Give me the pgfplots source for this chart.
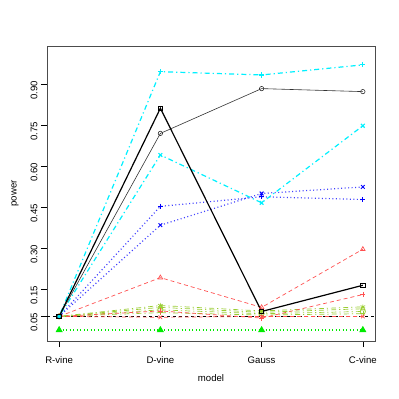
\documentclass[border=0pt]{standalone}
\usepackage{pgfplots}
\pgfplotsset{compat=1.18}
\usepackage{fontspec}
\setmainfont{Liberation Sans}
\definecolor{ygreen}{RGB}{154,205,50}
\definecolor{lred}{RGB}{255,80,80}
\definecolor{rcyan}{RGB}{0,240,255}
\definecolor{rblue}{RGB}{0,0,255}
\definecolor{rgreen}{RGB}{0,235,0}
\begin{document}
\begin{tikzpicture}[x=1pt,y=1pt]
\path[use as bounding box] (0,0) rectangle (399,399);
\begin{axis}[
  at={(47pt,58pt)}, anchor=south west,
  scale only axis, width=328pt, height=295pt,
  xmin=0.88, xmax=4.12, ymin=-0.04, ymax=1.04,
  xtick={1,2,3,4}, xticklabels={R-vine,D-vine,Gauss,C-vine},
  ytick={0.05,0.15,0.30,0.45,0.60,0.75,0.90},
  yticklabels={0.05,0.15,0.30,0.45,0.60,0.75,0.90},
  tick align=outside, tick pos=left,
  major tick length=6pt,
  every tick/.style={black, line width=0.5pt},
  axis line style={black!70, line width=0.6pt},
  font=\fontsize{9.6}{12}\selectfont,
  yticklabel style={rotate=90, anchor=south, xshift=-6pt},
  xticklabel style={yshift=-6pt},
  xlabel={model}, ylabel={power},
  xlabel style={at={(axis description cs:0.5,-0.1254)}, anchor=center},
  ylabel style={at={(axis description cs:-0.0976,0.5)}, anchor=center, rotate=0},
  clip=false,
  every axis plot/.append style={mark size=2.6pt, line width=0.7pt},
  rdash/.style={dash pattern=on 4pt off 3pt},
  rdot/.style={dash pattern=on 1pt off 2.5pt},
  rdotdash/.style={dash pattern=on 1.2pt off 3pt on 5pt off 3pt},
]
\addplot[black, dash pattern=on 3pt off 3pt, line width=0.5pt, no marks] coordinates {(0.88,0.05) (4.12,0.05)};
% bright green at 0
\addplot[rgreen, rdot, line width=1.2pt, mark=triangle*, mark options={solid, fill=rgreen, mark size=3pt}] coordinates {(1,0) (2,0) (3,0) (4,0)};
% yellow-green family
\addplot[ygreen, rdotdash, mark=asterisk, mark options={solid}] coordinates {(1,0.05) (2,0.090) (3,0.070) (4,0.085)};
\addplot[ygreen, rdotdash, mark=triangle, mark options={solid}] coordinates {(1,0.05) (2,0.083) (3,0.065) (4,0.078)};
\addplot[ygreen, rdotdash, mark=o, mark options={solid}] coordinates {(1,0.05) (2,0.074) (3,0.060) (4,0.068)};
\addplot[ygreen, rdotdash, mark=+, mark options={solid}] coordinates {(1,0.05) (2,0.064) (3,0.055) (4,0.060)};
% red family
\addplot[lred, rdash, mark=triangle, mark options={solid}] coordinates {(1,0.05) (2,0.192) (3,0.083) (4,0.296)};
\addplot[lred, rdash, mark=+, mark options={solid}] coordinates {(1,0.05) (2,0.070) (3,0.044) (4,0.130)};
\addplot[lred, rdash, mark=x, mark options={solid}] coordinates {(1,0.05) (2,0.047) (3,0.050) (4,0.050)};
% blue family
\addplot[rblue!75, rdot, line width=1.2pt, mark=+, mark options={solid, rblue, line width=0.9pt}] coordinates {(1,0.05) (2,0.453) (3,0.488) (4,0.478)};
\addplot[rblue!75, rdot, line width=1.2pt, mark=x, mark options={solid, rblue, line width=0.9pt}] coordinates {(1,0.05) (2,0.384) (3,0.500) (4,0.524)};
% cyan family
\addplot[rcyan, rdotdash, line width=1.2pt, mark=x, mark options={solid}] coordinates {(1,0.05) (2,0.641) (3,0.466) (4,0.748)};
\addplot[rcyan, rdotdash, line width=1.2pt, mark=+, mark options={solid}] coordinates {(1,0.05) (2,0.946) (3,0.934) (4,0.971)};
% black family
\addplot[black!80, solid, line width=0.6pt, mark=o, mark options={solid, mark size=2.2pt}] coordinates {(1,0.05) (2,0.720) (3,0.884) (4,0.873)};
\addplot[black, solid, line width=1.2pt, mark=square, mark options={solid, mark size=2.2pt, line width=1pt}] coordinates {(1,0.05) (2,0.812) (3,0.068) (4,0.164)};
\end{axis}
\end{tikzpicture}
\end{document}
